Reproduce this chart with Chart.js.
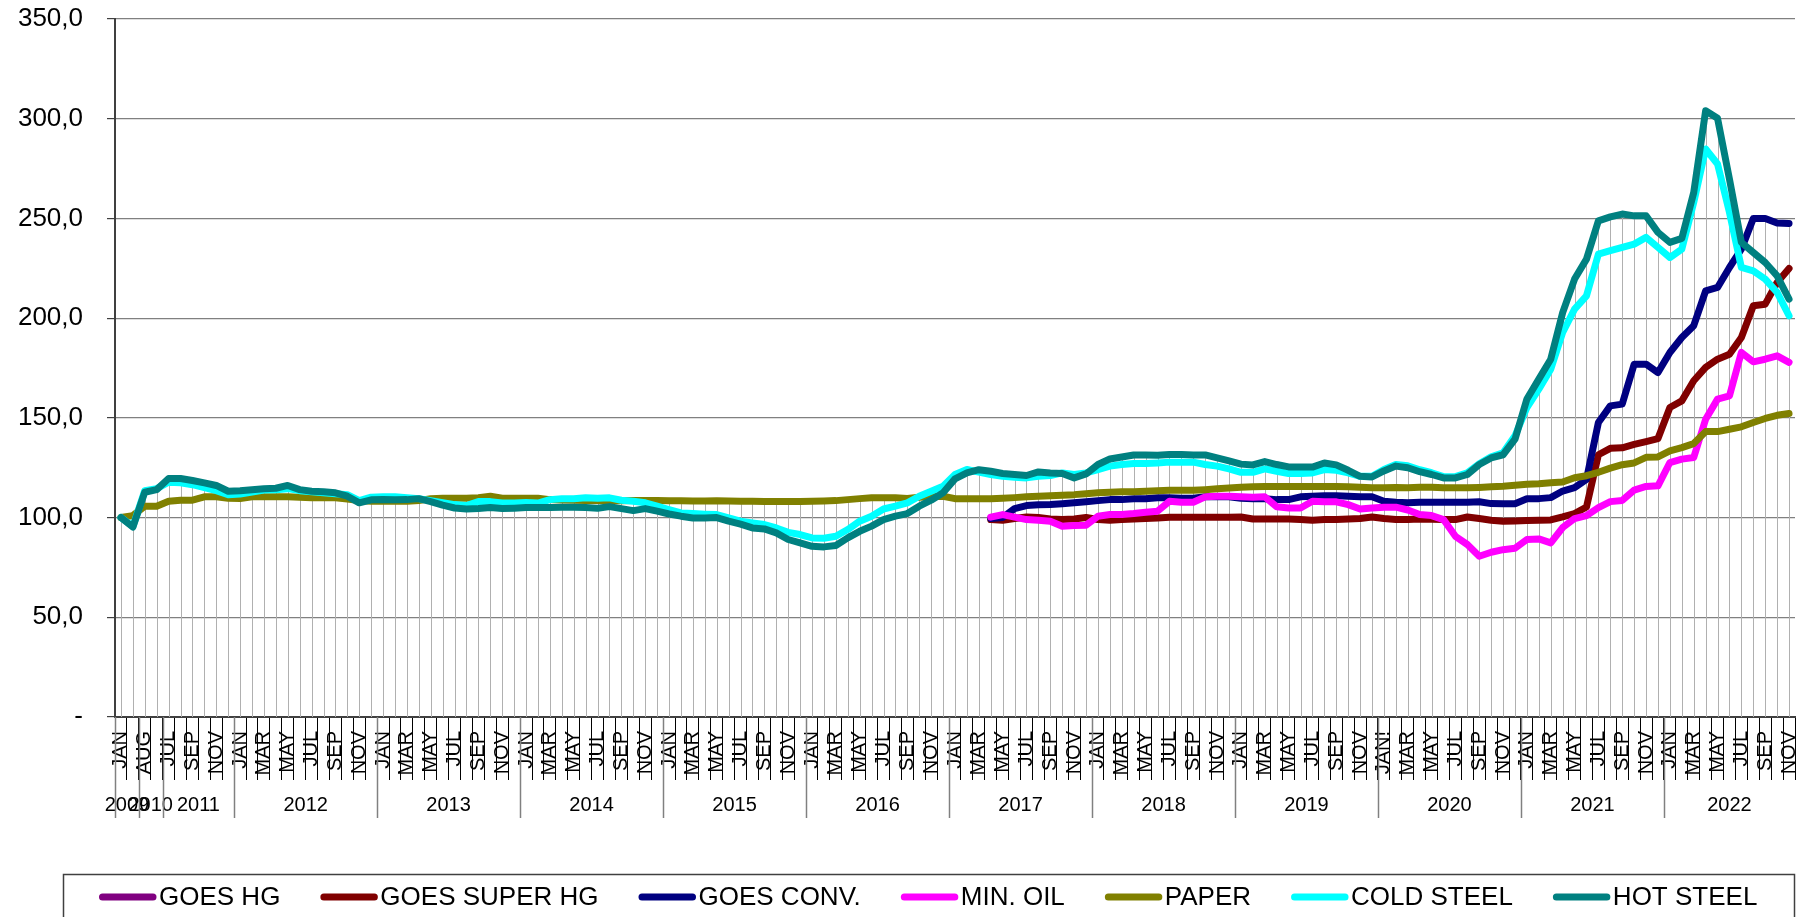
<!DOCTYPE html>
<html>
<head>
<meta charset="utf-8">
<script src="https://cdn.jsdelivr.net/npm/chart.js@4.4.1/dist/chart.umd.min.js"></script>
<style>
  html, body { margin: 0; padding: 0; background: #ffffff; }
  #c { display: block; }
</style>
</head>
<body>
<canvas id="c" width="1805" height="917"></canvas>
<script>
// ---------- DATA ----------
const monthLabels = [
  'JAN','DEC',
  'AUG','DEC',
  'JUL','AUG','SEP','OCT','NOV','DEC',
  'JAN','FEB','MAR','APR','MAY','JUN','JUL','AUG','SEP','OCT','NOV','DEC',
  'JAN','FEB','MAR','APR','MAY','JUN','JUL','AUG','SEP','OCT','NOV','DEC',
  'JAN','FEB','MAR','APR','MAY','JUN','JUL','AUG','SEP','OCT','NOV','DEC',
  'JAN','FEB','MAR','APR','MAY','JUN','JUL','AUG','SEP','OCT','NOV','DEC',
  'JAN','FEB','MAR','APR','MAY','JUN','JUL','AUG','SEP','OCT','NOV','DEC',
  'JAN','FEB','MAR','APR','MAY','JUN','JUL','AUG','SEP','OCT','NOV','DEC',
  'JAN','FEB','MAR','APR','MAY','JUN','JUL','AUG','SEP','OCT','NOV','DEC',
  'JAN','FEB','MAR','APR','MAY','JUN','JUL','AUG','SEP','OCT','NOV','DEC',
  'JAN!','FEB','MAR','APR','MAY','JUN','JUL','AUG','SEP','OCT','NOV','DEC',
  'JAN','FEB','MAR','APR','MAY','JUN','JUL','AUG','SEP','OCT','NOV','DEC',
  'JAN','FEB','MAR','APR','MAY','JUN','JUL','AUG','SEP','OCT','NOV'
];
const yearLabels = ['2009','2010','2011','2012','2013','2014','2015','2016','2017','2018','2019','2020','2021','2022'];
const yearMonthCounts = [2, 2, 6, 12, 12, 12, 12, 12, 12, 12, 12, 12, 12, 11];

const seriesNames = ['GOES HG','GOES SUPER HG','GOES CONV.','MIN. OIL','PAPER','COLD STEEL','HOT STEEL'];
const seriesColors = ['#800080','#800000','#000080','#ff00ff','#808000','#00ffff','#008080'];

const N = null;
const goesHg = new Array(141).fill(null);

const goesSuperHg = [
  N,N,N,N,N,N,N,N,N,N, N,N,N,N,N,N,N,N,N,N, N,N,N,N,N,N,N,N,N,N,
  N,N,N,N,N,N,N,N,N,N, N,N,N,N,N,N,N,N,N,N, N,N,N,N,N,N,N,N,N,N,
  N,N,N,N,N,N,N,N,N,N, N,N,N,
  99.0,98.7,99.5,100.3,100.0,99.3,99.0,99.3,100.0,99.0,
  98.7,99.0,99.3,99.5,99.8,100.2,100.2,100.2,100.2,100.2,
  100.2,100.3,99.3,99.3,99.3,99.3,99.0,98.7,99.0,99.0,
  99.3,99.5,100.3,99.5,99.0,99.0,99.3,99.2,99.0,99.0,
  100.3,99.5,98.7,98.2,98.3,98.5,98.7,98.8,100.3,102.0,
  105.3,131.5,134.7,135.0,136.7,138.1,139.6,155.2,158.5,168.6,
  175.3,179.4,181.9,190.3,206.2,207.0,217.9,224.9
];

const goesConv = [
  N,N,N,N,N,N,N,N,N,N, N,N,N,N,N,N,N,N,N,N, N,N,N,N,N,N,N,N,N,N,
  N,N,N,N,N,N,N,N,N,N, N,N,N,N,N,N,N,N,N,N, N,N,N,N,N,N,N,N,N,N,
  N,N,N,N,N,N,N,N,N,N, N,N,N,
  99.5,100.0,104.5,106.0,106.4,106.5,106.9,107.4,107.9,108.5,
  109.0,109.0,109.4,109.4,109.9,109.9,109.7,109.7,110.4,110.4,
  110.4,109.7,109.4,109.4,109.0,109.0,110.4,110.7,111.0,111.0,
  110.7,110.4,110.4,108.2,107.7,107.4,107.7,107.7,107.7,107.7,
  107.7,107.9,107.0,106.9,106.9,109.4,109.5,110.0,113.3,115.0,
  119.2,147.7,156.0,156.9,176.9,176.9,172.7,182.8,190.3,196.2,
  213.7,215.4,225.4,234.6,250.0,250.0,247.7,247.5
];

const minOil = [
  N,N,N,N,N,N,N,N,N,N, N,N,N,N,N,N,N,N,N,N, N,N,N,N,N,N,N,N,N,N,
  N,N,N,N,N,N,N,N,N,N, N,N,N,N,N,N,N,N,N,N, N,N,N,N,N,N,N,N,N,N,
  N,N,N,N,N,N,N,N,N,N, N,N,N,
  100.2,101.5,100.2,99.0,98.7,98.2,95.7,96.0,96.2,100.7,
  101.5,101.5,102.0,102.7,103.2,108.2,107.7,107.7,110.4,110.7,
  110.7,110.4,110.2,110.4,105.4,104.8,104.8,108.2,107.9,107.9,
  106.5,104.3,104.8,105.2,105.2,103.8,101.5,101.0,99.0,90.6,
  86.5,80.6,82.6,83.9,84.6,89.0,89.3,87.3,95.0,99.5,
  101.0,105.0,108.0,108.6,113.8,115.6,115.9,127.6,129.3,130.1,
  149.3,159.4,161.0,182.8,178.1,179.4,181.1,177.8
];

const paper = [
  100.0,101.0,105.7,105.7,108.2,108.7,108.7,110.4,110.4,109.7,
  109.5,110.4,110.5,110.5,110.5,110.2,109.9,109.9,109.9,109.3,
  108.5,108.2,108.2,108.2,108.2,108.5,109.5,109.7,109.7,109.7,
  110.0,110.7,109.7,109.7,109.7,109.7,109.0,108.8,108.7,108.5,
  108.5,108.4,108.4,108.5,108.5,108.5,108.4,108.4,108.3,108.3,
  108.4,108.3,108.2,108.2,108.0,108.0,108.0,108.0,108.2,108.3,
  108.5,109.0,109.5,109.9,110.0,109.9,109.6,110.2,110.4,110.7,
  109.5,109.5,109.4,109.5,109.7,110.0,110.4,110.7,111.0,111.2,
  111.5,112.0,112.4,112.7,112.9,113.0,113.2,113.4,113.7,113.7,
  113.7,114.0,114.4,114.8,115.2,115.4,115.6,115.6,115.6,115.6,
  115.6,115.6,115.6,115.4,115.2,115.0,114.9,115.1,115.0,115.2,
  115.2,114.9,114.9,114.9,115.1,115.4,115.7,116.2,116.7,117.0,
  117.5,117.8,120.0,121.0,122.7,124.8,126.5,127.4,130.2,130.4,
  133.4,135.1,137.1,143.1,143.1,144.3,145.5,147.7,149.7,151.3,
  152.2
];

const coldSteel = [
  100.0,95.5,113.5,114.5,117.7,117.4,116.5,115.0,113.5,111.5,
  111.8,112.8,113.8,114.0,114.5,113.5,113.0,112.5,112.0,111.5,
  108.5,110.2,110.5,110.5,110.0,109.5,108.5,107.5,106.5,106.0,
  108.0,108.0,107.3,107.3,107.5,107.3,109.0,109.4,109.4,109.9,
  109.7,109.9,108.7,108.2,107.4,105.7,104.0,102.3,102.0,101.7,
  101.5,99.8,98.2,97.3,96.5,94.8,92.6,91.5,89.8,89.6,
  90.6,94.0,98.2,100.7,104.3,105.7,107.4,110.7,113.2,115.7,
  121.6,124.1,122.8,121.6,120.7,120.2,119.9,120.7,121.1,122.4,
  121.6,122.4,124.1,125.8,126.6,127.1,127.1,127.4,127.8,127.8,
  127.8,126.6,125.8,124.4,122.7,122.7,124.4,123.2,122.1,122.1,
  122.4,124.1,123.7,122.4,120.7,120.7,124.1,126.6,126.0,124.0,
  122.5,120.5,120.5,122.5,127.0,130.5,132.5,141.0,155.2,164.4,
  174.4,192.8,204.5,211.2,232.1,233.8,235.5,237.1,240.5,235.5,
  230.4,234.6,258.0,284.8,277.3,253.0,225.4,223.7,219.6,212.9,
  201.2
];

const hotSteel = [
  100.0,95.2,112.7,114.0,119.6,119.6,118.6,117.4,116.1,113.2,
  113.4,113.9,114.4,114.7,116.1,114.0,113.2,112.9,112.4,110.7,
  107.4,108.9,109.0,108.9,109.0,109.5,108.0,106.2,104.8,104.3,
  104.5,105.0,104.5,104.7,105.0,105.0,105.0,105.2,105.2,105.0,
  104.7,105.5,104.5,103.5,104.5,103.2,101.8,100.7,99.8,99.8,
  100.0,98.2,96.7,94.8,94.3,92.3,89.0,87.3,85.6,85.3,
  86.0,89.8,93.1,95.7,99.0,100.7,102.0,105.7,108.7,112.4,
  119.4,122.4,124.0,123.2,122.1,121.6,121.1,122.9,122.4,122.1,
  119.9,121.9,126.6,129.4,130.4,131.4,131.4,131.3,131.6,131.6,
  131.4,131.4,129.9,128.4,126.8,126.4,128.1,126.6,125.4,125.4,
  125.3,127.4,126.4,123.7,120.7,120.4,123.4,125.8,125.0,123.0,
  121.6,119.9,119.9,121.6,126.6,129.9,131.5,139.3,159.4,169.4,
  179.4,202.8,219.6,229.6,248.8,250.8,252.2,251.3,251.3,243.0,
  238.0,240.0,263.0,304.0,300.2,269.7,238.0,232.9,227.9,221.2,
  209.5
];

const yTickValues = [0, 50, 100, 150, 200, 250, 300, 350];

// ---------- CHART ----------
const seriesData = [goesHg, goesSuperHg, goesConv, minOil, paper, coldSteel, hotSteel];
const datasets = seriesNames.map((name, i) => ({
  label: name,
  data: seriesData[i],
  borderColor: seriesColors[i],
  backgroundColor: seriesColors[i],
  borderWidth: 7,
  borderJoinStyle: 'round',
  borderCapStyle: 'round',
  pointRadius: 0,
  pointHoverRadius: 0,
  tension: 0,
  spanGaps: false,
  fill: false,
  order: seriesNames.length - 1 - i
}));

const FONT = "'Liberation Sans', Arial, sans-serif";

const dropLines = {
  id: 'dropLines',
  beforeDatasetsDraw(chart) {
    const { ctx, scales: { x, y }, chartArea } = chart;
    ctx.save();
    ctx.strokeStyle = '#b0b0b0';
    ctx.lineWidth = 1;
    for (let i = 0; i < monthLabels.length; i++) {
      let mx = null;
      chart.data.datasets.forEach(ds => {
        const v = ds.data[i];
        if (v !== null && v !== undefined && (mx === null || v > mx)) mx = v;
      });
      if (mx === null) continue;
      const px = Math.round(x.getPixelForValue(i)) + 0.5;
      ctx.beginPath();
      ctx.moveTo(px, y.getPixelForValue(mx));
      ctx.lineTo(px, chartArea.bottom);
      ctx.stroke();
    }
    ctx.restore();
  }
};

const yearAxis = {
  id: 'yearAxis',
  afterDraw(chart) {
    const { ctx, scales: { x }, chartArea } = chart;
    const w = x.getPixelForValue(1) - x.getPixelForValue(0);
    ctx.save();
    ctx.font = '20px ' + FONT;
    ctx.fillStyle = '#000';
    ctx.textAlign = 'center';
    ctx.textBaseline = 'middle';
    ctx.strokeStyle = '#808080';
    ctx.lineWidth = 1.5;
    let start = 0;
    yearLabels.forEach((yl, k) => {
      const cnt = yearMonthCounts[k];
      const left = x.getPixelForValue(start) - w / 2;
      ctx.beginPath();
      ctx.moveTo(Math.round(left) + 0.5, chartArea.bottom);
      ctx.lineTo(Math.round(left) + 0.5, 818);
      ctx.stroke();
      ctx.fillText(yl, left + cnt * w / 2, 805);
      start += cnt;
    });
    ctx.restore();
  }
};

const boxLegend = {
  id: 'boxLegend',
  afterDraw(chart) {
    const { ctx } = chart;
    ctx.save();
    ctx.strokeStyle = '#404040';
    ctx.lineWidth = 1.5;
    ctx.strokeRect(63.5, 874.5, 1731, 80);
    ctx.font = '26px ' + FONT;
    ctx.textBaseline = 'middle';
    ctx.textAlign = 'left';
    let xPos = 99;
    const yPos = 897;
    chart.data.datasets.forEach(ds => {
      ctx.strokeStyle = ds.borderColor;
      ctx.lineWidth = 7;
      ctx.lineCap = 'round';
      ctx.beginPath();
      ctx.moveTo(xPos + 3.5, yPos);
      ctx.lineTo(xPos + 54, yPos);
      ctx.stroke();
      ctx.fillStyle = '#000';
      ctx.fillText(ds.label, xPos + 60, yPos + 1);
      xPos = xPos + 60 + ctx.measureText(ds.label).width + 40;
    });
    ctx.restore();
  }
};

new Chart(document.getElementById('c'), {
  type: 'line',
  data: { labels: monthLabels, datasets },
  options: {
    responsive: false,
    animation: false,
    devicePixelRatio: 1,
    events: [],
    layout: { padding: { top: 19, right: 10, bottom: 100, left: 0 } },
    plugins: { legend: { display: false }, tooltip: { enabled: false } },
    scales: {
      x: {
        offset: true,
        grid: {
          offset: true,
          drawOnChartArea: false,
          drawTicks: true,
          tickLength: 63,
          tickColor: '#000000',
          color: '#000000',
          lineWidth: 1
        },
        border: { display: true, color: '#404040', width: 2 },
        ticks: {
          autoSkip: false,
          maxRotation: 90,
          minRotation: 90,
          padding: -49,
          color: '#000',
          font: { family: FONT, size: 20 },
          callback: (v, i) => (i % 2 === 0 ? monthLabels[i] : '')
        },
        afterFit: s => { s.height = 100; s.paddingLeft = 0; s.paddingRight = 0; }
      },
      y: {
        min: 0,
        max: 350,
        afterBuildTicks: s => { s.ticks = yTickValues.map(v => ({ value: v })); },
        ticks: {
          padding: 24,
          color: '#000',
          font: { family: FONT, size: 26 },
          callback: v => (v === 0 ? '-' : v.toFixed(1).replace('.', ','))
        },
        grid: { color: '#808080', lineWidth: 1.2, tickLength: 8, tickColor: '#404040' },
        border: { display: true, color: '#404040', width: 2 },
        afterFit: s => { s.width = 115; s.paddingTop = 0; s.paddingBottom = 0; }
      }
    }
  },
  plugins: [dropLines, yearAxis, boxLegend]
});
</script>
</body>
</html>
